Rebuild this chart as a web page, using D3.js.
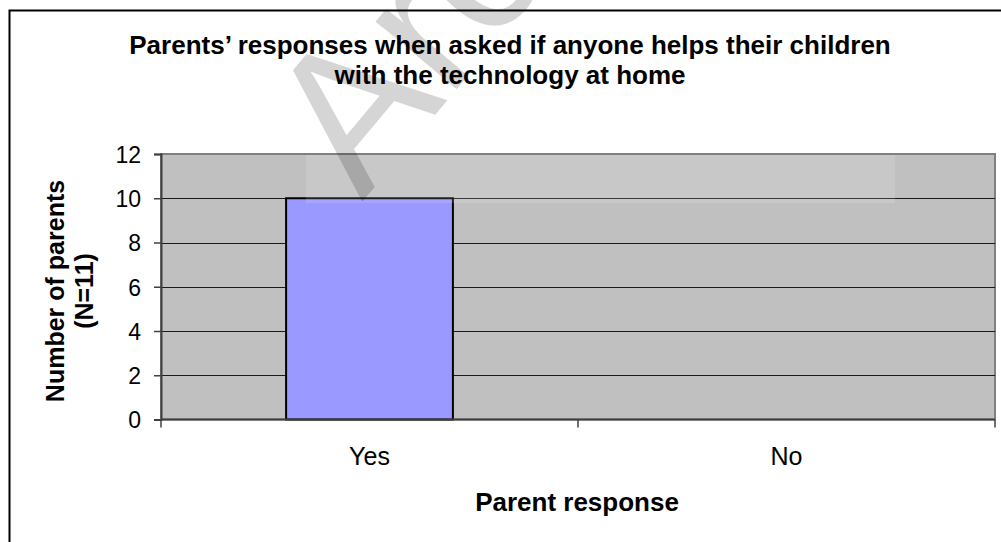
<!DOCTYPE html>
<html>
<head>
<meta charset="utf-8">
<script src="https://cdn.jsdelivr.net/npm/d3@7"></script>
<style>
  html, body { margin: 0; padding: 0; background: #ffffff; }
  svg { display: block; }
  text { font-family: Arial, "Liberation Sans", sans-serif; fill: #000; }
</style>
</head>
<body>
<svg id="chart" width="1001" height="542"></svg>
<script>
// Survey answers
const categories = ["Yes", "No"];
const parentCounts = [10, 0];
const yTickValues = [0, 2, 4, 6, 8, 10, 12];
const titleLines = ["Parents\u2019 responses when asked if anyone helps their children", "with the technology at home"];
const yTitleLines = ["Number of parents", "(N=11)"];
const xTitle = "Parent response";

const svg = d3.select("#chart");
const W = 1001, H = 542;
const plot = { left: 161, top: 154, right: 995, bottom: 419.5 };
const FONT = "Arial, 'Liberation Sans', sans-serif";

// Outer chart frame
svg.append("rect")
  .attr("x", 9.5).attr("y", 10.5)
  .attr("width", W + 20).attr("height", H + 20)
  .attr("fill", "#fff").attr("stroke", "#000").attr("stroke-width", 2);

const x = d3.scaleBand().domain(categories)
  .range([plot.left, plot.right]).paddingInner(0.6).paddingOuter(0.3);
const xOuter = d3.scaleBand().domain(categories).range([plot.left, plot.right]);
const y = d3.scaleLinear().domain([0, 12]).range([plot.bottom, plot.top]);

// Plot area
svg.append("rect")
  .attr("x", plot.left).attr("y", plot.top)
  .attr("width", plot.right - plot.left).attr("height", plot.bottom - plot.top)
  .attr("fill", "#c0c0c0").attr("stroke", "#808080").attr("stroke-width", 2);

// Gridlines
svg.append("g").selectAll("line")
  .data(yTickValues.filter(v => v > 0 && v < 12))
  .join("line")
  .attr("x1", plot.left).attr("x2", plot.right)
  .attr("y1", d => Math.round(y(d)) + 0.5).attr("y2", d => Math.round(y(d)) + 0.5)
  .attr("stroke", "#1a1a1a").attr("stroke-width", 1);

// Bars
svg.append("g").selectAll("rect")
  .data(categories.map((c, i) => ({ c, v: parentCounts[i] })).filter(d => d.v > 0))
  .join("rect")
  .attr("x", d => x(d.c)).attr("width", x.bandwidth())
  .attr("y", d => y(d.v)).attr("height", d => y(0) - y(d.v))
  .attr("fill", "#9999ff").attr("stroke", "#000").attr("stroke-width", 2);

// Faint watermark
svg.append("rect")
  .attr("x", 306).attr("y", plot.top + 1).attr("width", 589).attr("height", 48)
  .attr("fill", "#fff").attr("opacity", 0.13);
svg.append("text")
  .attr("transform", "translate(362,202) rotate(-50)")
  .style("font-size", "200px").style("font-family", FONT)
  .style("fill", "#000").attr("opacity", 0.16)
  .text("Arc");

// Y axis
const yAxis = svg.append("g")
  .attr("transform", `translate(${plot.left},0)`)
  .call(d3.axisLeft(y).tickValues(yTickValues).tickSize(7).tickPadding(13));
yAxis.select(".domain").attr("stroke", "#404040").attr("stroke-width", 2);
yAxis.selectAll(".tick line").attr("stroke", "#404040").attr("stroke-width", 1.5);
yAxis.selectAll(".tick text")
  .style("font-size", "23px").style("font-family", FONT)
  .attr("fill", "#000").attr("dy", "0.36em");

// X axis: ticks sit on category boundaries
const boundaries = categories.map(c => xOuter(c)).concat([plot.right]);
const xAxisG = svg.append("g");
xAxisG.append("line")
  .attr("x1", plot.left).attr("x2", plot.right)
  .attr("y1", y(0)).attr("y2", y(0))
  .attr("stroke", "#404040").attr("stroke-width", 2);
xAxisG.selectAll("line.tick")
  .data(boundaries)
  .join("line").attr("class", "tick")
  .attr("x1", d => d).attr("x2", d => d)
  .attr("y1", y(0)).attr("y2", y(0) + 8)
  .attr("stroke", "#404040").attr("stroke-width", 1.5);
xAxisG.selectAll("text")
  .data(categories)
  .join("text")
  .attr("x", d => xOuter(d) + xOuter.bandwidth() / 2)
  .attr("y", 465)
  .attr("text-anchor", "middle")
  .style("font-size", "25px")
  .text(d => d);

// Titles
svg.append("g").selectAll("text")
  .data(titleLines)
  .join("text")
  .attr("x", 510).attr("y", (d, i) => 54 + i * 30)
  .attr("text-anchor", "middle")
  .style("font-size", "26px").style("font-weight", "bold")
  .text(d => d);

svg.append("text")
  .attr("x", 577).attr("y", 511)
  .attr("text-anchor", "middle")
  .style("font-size", "26px").style("font-weight", "bold")
  .text(xTitle);

svg.append("g").selectAll("text")
  .data(yTitleLines)
  .join("text")
  .attr("transform", (d, i) => `translate(${64 + i * 29},291) rotate(-90)`)
  .attr("text-anchor", "middle")
  .style("font-size", "25px").style("font-weight", "bold")
  .text(d => d);
</script>
</body>
</html>
